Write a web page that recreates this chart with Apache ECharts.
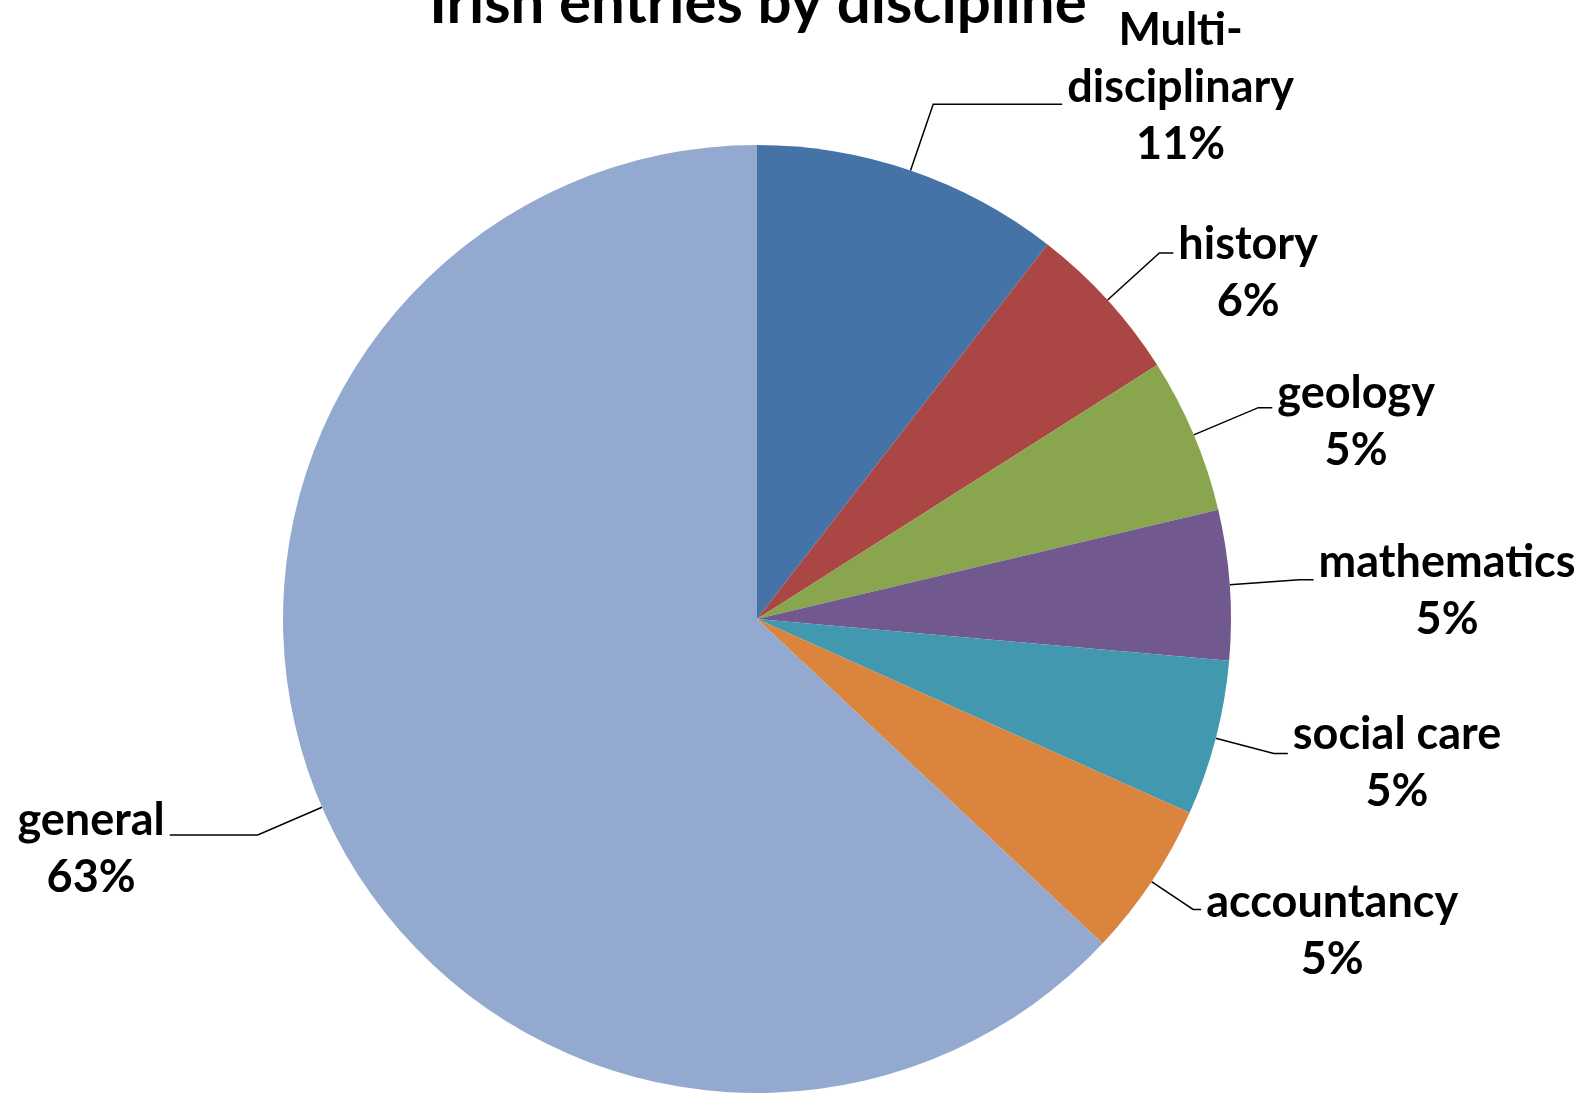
<!DOCTYPE html>
<html>
<head>
<meta charset="utf-8">
<script src="https://cdn.jsdelivr.net/npm/echarts@6/dist/echarts.min.js"></script>
<style>
    html, body { margin: 0; padding: 0; background: #fff; }
    #chart { width: 1590px; height: 1094px; }
</style>
</head>
<body>
<div id="chart"></div>
<script>
    // share of entries per discipline (%), clockwise from 12 o'clock
    const disciplines = ['Multi-disciplinary', 'history', 'geology', 'mathematics', 'social care', 'accountancy', 'general']
    const shares = [10.5, 5.5, 5.3, 5.1, 5.3, 5.3, 63.0]
    const colors = ['#4572A7', '#AA4643', '#89A54E', '#71588F', '#4198AF', '#DB843D', '#93A9CF']

    // leader line tweaks, same order as disciplines
    const lineLen = [70, 70, 70, 70, 60, 50, 70]
    const lineLen2 = [129, 14, 14, 14, 14, 8, 88]
    const labelPad = [[0, 0, 34, 0], [40, 0, 0, 0], [28, 0, 0, 0], [22, 0, 0, 0], [20, 0, 0, 0], [44, 0, 0, 0], [28, 0, 0, 0]]

    let data = disciplines.map((name, i) => {
        return {
            name,
            value: shares[i],
            label: { padding: labelPad[i] },
            labelLine: { length: lineLen[i], length2: lineLen2[i] }
        }
    })

    let myChart = echarts.init(document.getElementById('chart'))
    myChart.setOption({
        color: colors,
        title: {
            text: 'Irish entries by discipline',
            left: 753,
            top: -31,
            textAlign: 'center',
            textStyle: {
                fontFamily: 'Lato',
                fontWeight: 'bold',
                fontSize: 60,
                color: '#000'
            }
        },
        series: [{
            type: 'pie',
            center: [757, 619],
            radius: 474,
            startAngle: 90,
            clockwise: true,
            data,
            itemStyle: { borderWidth: 0 },
            label: {
                show: true,
                position: 'outside',
                formatter: (p) => {
                    let name = p.name.replace('-', '-\n')
                    return `{n|${name}}\n{n|${Math.round(p.percent)}%}`
                },
                rich: {
                    n: {
                        fontFamily: 'Lato',
                        fontWeight: 'bold',
                        fontSize: 45,
                        lineHeight: 57,
                        color: '#000',
                        align: 'center'
                    }
                }
            },
            labelLine: {
                show: true,
                lineStyle: { color: '#000', width: 1.5 }
            },
            emphasis: { disabled: true }
        }]
    })
</script>
</body>
</html>
